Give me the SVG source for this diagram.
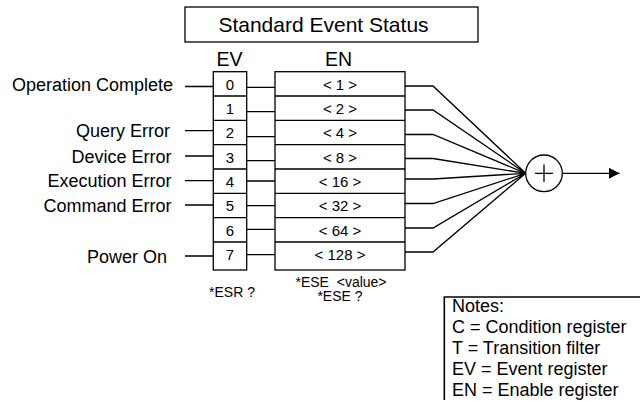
<svg xmlns="http://www.w3.org/2000/svg" width="640" height="402" viewBox="0 0 640 402">
<defs>
<style>
text{font-family:"Liberation Sans",Arial,sans-serif;fill:#000}
.lbl{font-size:18px;text-anchor:end}
.cell{font-size:15px;text-anchor:middle}
.hd{font-size:19.5px;text-anchor:middle}
.note{font-size:18px}
.sm{font-size:14px;text-anchor:middle}
.box{fill:#fff;stroke:#000;stroke-width:1.3}
.ln{fill:none;stroke:#000;stroke-width:1.3}
</style>
<marker id="arr" markerWidth="11" markerHeight="11" refX="10.5" refY="5.5" orient="auto" markerUnits="userSpaceOnUse">
<path d="M0,0 L10.5,5.5 L0,11 Z" fill="#000"/>
</marker>
</defs>
<rect width="640" height="402" fill="#fff"/>

<g id="title">
<rect class="box" x="185" y="7" width="293" height="35"/>
<text x="323.5" y="32" font-size="21" text-anchor="middle">Standard Event Status</text>
</g>

<g id="labels">
<text class="lbl" x="173" y="91">Operation Complete</text>
<text class="lbl" x="170" y="137">Query Error</text>
<text class="lbl" x="171.5" y="162.5">Device Error</text>
<text class="lbl" x="171.5" y="187">Execution Error</text>
<text class="lbl" x="171.5" y="211.5">Command Error</text>
<text class="lbl" x="167" y="262.5">Power On</text>
</g>

<g id="ev">
<text class="hd" x="229.5" y="66">EV</text>
<rect class="box" x="213.3" y="71.7" width="33.4" height="198.3"/>
<path class="ln" d="M213.3 96H246.7M213.3 120.3H246.7M213.3 144.7H246.7M213.3 169H246.7M213.3 193.3H246.7M213.3 217.7H246.7M213.3 242H246.7"/>
<text class="cell" x="230" y="89.5">0</text>
<text class="cell" x="230" y="113.8">1</text>
<text class="cell" x="230" y="138.2">2</text>
<text class="cell" x="230" y="162.5">3</text>
<text class="cell" x="230" y="186.8">4</text>
<text class="cell" x="230" y="211.2">5</text>
<text class="cell" x="230" y="235.5">6</text>
<text class="cell" x="230" y="260">7</text>
</g>

<g id="en">
<text class="hd" x="338.5" y="66">EN</text>
<rect class="box" x="275" y="71.7" width="130" height="198.3"/>
<path class="ln" d="M275 96H405M275 120.3H405M275 144.7H405M275 169H405M275 193.3H405M275 217.7H405M275 242H405"/>
<text class="cell" x="340" y="89.5">&lt; 1 &gt;</text>
<text class="cell" x="340" y="113.8">&lt; 2 &gt;</text>
<text class="cell" x="340" y="138.2">&lt; 4 &gt;</text>
<text class="cell" x="340" y="162.5">&lt; 8 &gt;</text>
<text class="cell" x="340" y="186.8">&lt; 16 &gt;</text>
<text class="cell" x="340" y="211.2">&lt; 32 &gt;</text>
<text class="cell" x="340" y="235.5">&lt; 64 &gt;</text>
<text class="cell" x="340" y="260">&lt; 128 &gt;</text>
</g>

<g id="sum">
<circle cx="544" cy="173.3" r="18.3" fill="#fff" stroke="#000" stroke-width="1.3"/>
<path class="ln" d="M535 173.3H553M544 164.5V182"/>
</g>

<g id="commands">
<text class="sm" x="232" y="297">*ESR ?</text>
<text class="sm" x="341" y="286.5" xml:space="preserve">*ESE  &lt;value&gt;</text>
<text class="sm" x="340" y="301">*ESE ?</text>
</g>

<g id="notes">
<path d="M640 297H444.3V400" fill="none" stroke="#000" stroke-width="1.6"/>
<text class="note" x="452" y="312">Notes:</text>
<text class="note" x="452" y="333">C = Condition register</text>
<text class="note" x="452" y="354">T = Transition filter</text>
<text class="note" x="452" y="375">EV = Event register</text>
<text class="note" x="452" y="396">EN = Enable register</text>
</g>

<g id="connectors">
<path class="ln" d="M185 86.5H213.3M185 130.7H213.3M185 156H213.3M185 180.7H213.3M185 205H213.3M185 256H213.3"/>
<path class="ln" d="M246.7 87.3H275M246.7 111.7H275M246.7 136.7H275M246.7 160.7H275M246.7 181H275M246.7 205.7H275M246.7 229.3H275M246.7 254.7H275"/>
<path class="ln" d="M405 86H433L525.7 173.3M405 110H433L525.7 173.3M405 134.5H433L525.7 173.3M405 158.5H433L525.7 173.3M405 179H433L525.7 173.3M405 203.5H433L525.7 173.3M405 228H433L525.7 173.3M405 252H433L525.7 173.3"/>
<path class="ln" d="M562.3 173.3H619.5" marker-end="url(#arr)"/>
</g>
</svg>
